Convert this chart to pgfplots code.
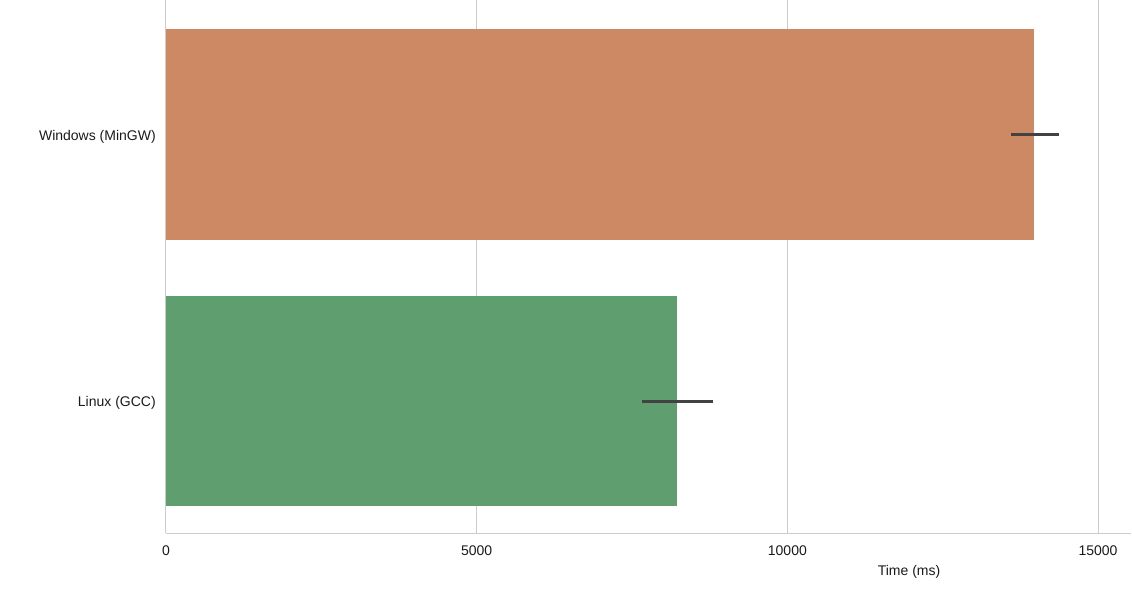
\documentclass[border=0pt]{standalone}
\usepackage{fontspec}
\setmainfont{Liberation Sans}
\usepackage{pgfplots}
\pgfplotsset{compat=1.18}
\definecolor{winc}{HTML}{CD8963}
\definecolor{linc}{HTML}{5F9E6E}
\definecolor{gridc}{HTML}{CCCCCC}
\definecolor{errc}{HTML}{424242}
\definecolor{txtc}{HTML}{1A1A1A}
\begin{document}
\begin{tikzpicture}
\useasboundingbox (0,0) rectangle (849pt,442.5pt);
\begin{axis}[
  at={(124.5pt,42.75pt)}, anchor=south west,
  scale only axis, width=723.75pt, height=399.75pt,
  xmin=0, xmax=15530, ymin=-0.505, ymax=1.495, y dir=reverse,
  xtick={0,5000,10000,15000},
  ytick={0,1}, yticklabels={Windows (MinGW), Linux (GCC)},
  scaled x ticks=false,
  /pgf/number format/assume math mode=true,
  /pgf/number format/set thousands separator={},
  axis x line*=bottom, axis y line*=left,
  axis line style={draw=gridc, line width=0.75pt, -},
  major tick length=0pt,
  xmajorgrids, grid style={draw=gridc, line width=0.75pt},
  tick label style={font=\fontsize{10.5}{12.6}\selectfont, text=txtc},
  xticklabel style={anchor=north, inner sep=0pt, yshift=-9pt},
  yticklabel style={anchor=east, inner sep=0pt, xshift=-7.5pt, yshift=-1.5pt},
  xlabel={Time (ms)},
  xlabel style={at={(axis description cs:0.770,0)}, anchor=base, yshift=-31.5pt, inner sep=0pt, font=\fontsize{10.5}{12.6}\selectfont, text=txtc},
  xbar, bar width=0.79, bar shift=0pt,
  clip=false,
]
\addplot[draw=none, fill=winc,
  error bars/.cd, x dir=both, x explicit, error mark=none,
  error bar style={draw=errc, line width=2.25pt}]
  coordinates {(13970,0) += (402,0) -= (370,0)};
\addplot[draw=none, fill=linc,
  error bars/.cd, x dir=both, x explicit, error mark=none,
  error bar style={draw=errc, line width=2.25pt}]
  coordinates {(8224,1) += (580,0) -= (563,0)};
\end{axis}
\end{tikzpicture}
\end{document}
